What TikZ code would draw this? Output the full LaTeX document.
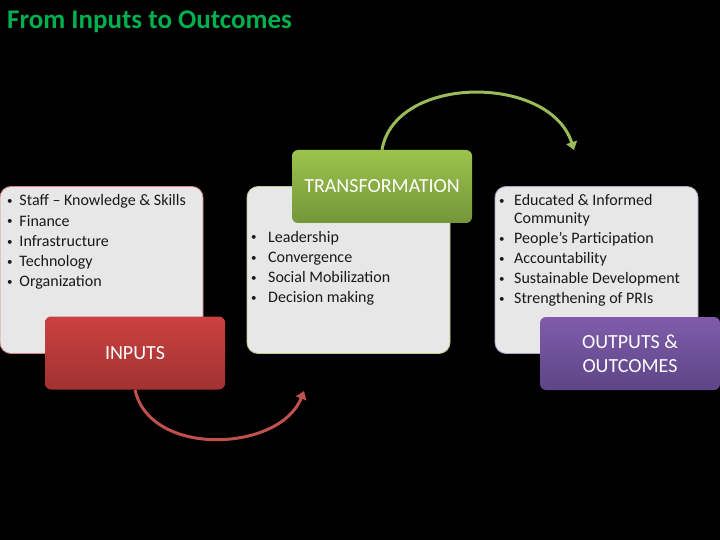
\documentclass[tikz,border=0pt]{standalone}
\usepackage{fontspec}
\setmainfont{Carlito}
\usetikzlibrary{arrows.meta}

\definecolor{titlegreen}{HTML}{00B050}
\definecolor{panelgray}{HTML}{E7E7E7}
\definecolor{inred}{HTML}{C0504D}
\definecolor{trgreen}{HTML}{9BBB59}
\definecolor{outpurple}{HTML}{8064A2}
\definecolor{redtop}{HTML}{CB4141}
\definecolor{redbot}{HTML}{A23232}
\definecolor{greentop}{HTML}{9CC34B}
\definecolor{greenbot}{HTML}{74953A}
\definecolor{purpletop}{HTML}{7F5CAB}
\definecolor{purplebot}{HTML}{5D4586}

\newcommand{\dotmark}{\raisebox{1.2pt}{\fontsize{11}{11}\selectfont\textbullet}}

\begin{document}
\begin{tikzpicture}[x=1pt,y=-1pt,
  panel/.style={draw=#1,line width=0.8pt,fill=panelgray,rounded corners=11pt,
    minimum width=203pt,minimum height=167pt,inner sep=0pt},
  tag/.style={rounded corners=6pt,minimum width=180pt,minimum height=73pt,
    inner sep=0pt,text=white,align=center,font=\fontsize{20}{24.4}\selectfont},
  items/.style={anchor=base west,inner sep=0pt,text=black!90,font=\fontsize{16}{20.2}\selectfont},
  flow/.style={line width=3pt,-{Triangle[length=8pt,width=11pt]}}]
\fill[black] (0,0) rectangle (720,540);
\useasboundingbox (0,0) rectangle (720,540);

\node[anchor=base west,font=\fontsize{27}{30}\selectfont\bfseries,text=titlegreen,inner sep=0pt]
  (title) at (7,29) {From Inputs to Outcomes};

% Grey panels with their lists
\node[panel=inred!70] (inbox) at (101.5,270) {};
\node[panel=trgreen!70] (trbox) at (348.5,270) {};
\node[panel=outpurple!60] (outbox) at (596.5,270) {};

\node[items] (inlist) at (7,206) {\begin{tabular}[t]{@{}p{12.3pt}@{}l@{}}
  \dotmark & Staff – Knowledge \& Skills\\
  \dotmark & Finance\\
  \dotmark & Infrastructure\\
  \dotmark & Technology\\
  \dotmark & Organization
\end{tabular}};
\node[items] (trlist) at (251,242) {\begin{tabular}[t]{@{}p{17pt}@{}l@{}}
  \dotmark & Leadership\\
  \dotmark & Convergence\\
  \dotmark & Social Mobilization\\
  \dotmark & Decision making
\end{tabular}};
\node[items] (outlist) at (499,206) {\begin{tabular}[t]{@{}p{15pt}@{}l@{}}
  \dotmark & Educated \& Informed\\[-3pt]
              & Community\\
  \dotmark & People’s Participation\\
  \dotmark & Accountability\\
  \dotmark & Sustainable Development\\
  \dotmark & Strengthening of PRIs
\end{tabular}};

% Coloured stage labels
\node[tag,top color=redtop,bottom color=redbot] (inputs) at (135,353) {INPUTS};
\node[tag,top color=greentop,bottom color=greenbot] (transform) at (382,186.5) {TRANSFORMATION};
\node[tag,top color=purpletop,bottom color=purplebot] (outputs) at (630,353.5) {OUTPUTS \&\\OUTCOMES};

% Curved arrows between stages
\coordinate (redtip) at (304,391);
\coordinate (greentip) at (574,150);
\draw[flow,inred] (inputs.south) .. controls (150,458) and (280,452) .. (redtip);
\draw[flow,trgreen] (transform.north) .. controls (395,74) and (550,74) .. (greentip);

\end{tikzpicture}
\end{document}
